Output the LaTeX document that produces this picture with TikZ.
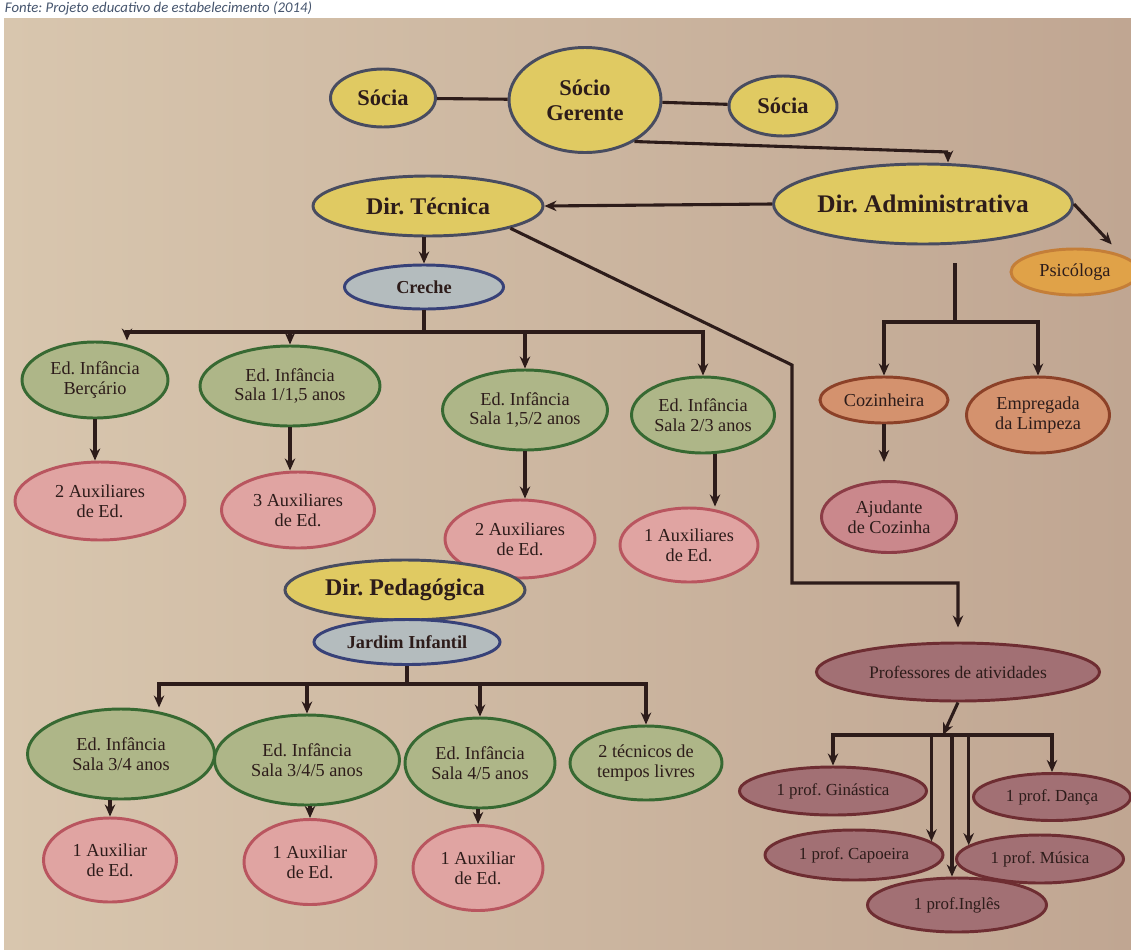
\documentclass[tikz,border=0pt]{standalone}
\usepackage{fontspec}
\setmainfont{Liberation Serif}
\newfontfamily\capfont{Carlito}
\usepackage{tikz}
\usetikzlibrary{shapes.geometric,arrows.meta}
\frenchspacing
\definecolor{ink}{RGB}{45,28,26}
\definecolor{capc}{RGB}{70,85,110}
\definecolor{bgl}{RGB}{216,198,174}
\definecolor{bgr}{RGB}{192,166,146}
\definecolor{yfill}{RGB}{224,202,98}
\definecolor{yline}{RGB}{72,76,96}
\definecolor{bfill}{RGB}{180,188,190}
\definecolor{bline}{RGB}{55,65,120}
\definecolor{gfill}{RGB}{174,182,136}
\definecolor{gline}{RGB}{55,105,50}
\definecolor{pfill}{RGB}{224,164,162}
\definecolor{pline}{RGB}{185,85,95}
\definecolor{ofill}{RGB}{212,146,110}
\definecolor{oline}{RGB}{140,65,40}
\definecolor{psfill}{RGB}{224,162,72}
\definecolor{psline}{RGB}{196,126,56}
\definecolor{afill}{RGB}{202,136,140}
\definecolor{aline}{RGB}{140,60,70}
\definecolor{mfill}{RGB}{162,112,116}
\definecolor{mline}{RGB}{110,45,50}

\begin{document}
\begin{tikzpicture}[x=0.025cm, y=-0.025cm, >={Stealth[length=3mm,width=2.6mm]},
  sz/.style 2 args={minimum width=#1*0.025cm, minimum height=#2*0.025cm},
  org/.style={ellipse, draw, line width=2.1pt, inner sep=0pt, align=center, text=ink, font=\fontsize{13}{14}\selectfont},
  chief/.style={org, fill=yfill, draw=yline, font=\bfseries\fontsize{17}{18}\selectfont},
  unit/.style={org, fill=bfill, draw=bline, font=\bfseries\fontsize{13}{14}\selectfont},
  room/.style={org, fill=gfill, draw=gline},
  aide/.style={org, fill=pfill, draw=pline},
  staff/.style={org, fill=ofill, draw=oline},
  teacher/.style={org, fill=mfill, draw=mline, font=\fontsize{12}{13}\selectfont},
  link/.style={line width=2.2pt, draw=ink}]
\useasboundingbox (0,0) rectangle (1131,949);
\fill[white] (0,0) rectangle (1131,949);
\shade[left color=bgl, right color=bgr] (4,18) rectangle (1131,949);
\node[font=\capfont\itshape\fontsize{10.5}{12}\selectfont, text=capc, anchor=west] (fonte) at (0,8) {Fonte: Projeto educativo de estabelecimento (2014)};

% direcao
\node[chief, sz={105}{58}, font=\bfseries\fontsize{16}{17}\selectfont] (soc1) at (383,98) {Sócia};
\node[chief, sz={152}{105}, font=\bfseries\fontsize{16}{18}\selectfont] (ger) at (585,100) {Sócio\\Gerente};
\node[chief, sz={108}{60}, font=\bfseries\fontsize{16}{17}\selectfont] (soc2) at (783,106) {Sócia};
\node[chief, sz={230}{60}] (tec) at (428,206) {Dir. Técnica};
\node[chief, sz={298}{80}, font=\bfseries\fontsize{18}{19}\selectfont] (adm) at (923,204) {Dir. Administrativa};
\node[org, fill=psfill, draw=psline, sz={128}{46}] (psi) at (1075,272) {Psicóloga};

% creche
\node[unit, sz={159}{44}] (creche) at (424,287) {Creche};
\node[room, sz={146}{76}] (ber) at (95,380) {Ed. Infância\\Berçário};
\node[room, sz={180}{80}] (s1) at (290,386) {Ed. Infância\\Sala 1/1,5 anos};
\node[room, sz={165}{80}] (s2) at (525,410) {Ed. Infância\\Sala 1,5/2 anos};
\node[room, sz={143}{76}] (s3) at (703,415) {Ed. Infância\\Sala 2/3 anos};
\node[aide, sz={170}{78}] (a1) at (100,501) {2 Auxiliares\\de Ed.};
\node[aide, sz={153}{76}] (a2) at (298,510) {3 Auxiliares\\de Ed.};
\node[aide, sz={150}{78}] (a3) at (520,539) {2 Auxiliares\\de Ed.};
\node[aide, sz={138}{74}] (a4) at (689,545) {1 Auxiliares\\de Ed.};

% jardim
\node[chief, sz={240}{60}] (ped) at (405,590) {Dir. Pedagógica};
\node[unit, sz={186}{45}] (jar) at (407,642) {Jardim Infantil};
\node[room, sz={187}{90}] (j1) at (121,754) {Ed. Infância\\Sala 3/4 anos};
\node[room, sz={185}{90}] (j2) at (307,760) {Ed. Infância\\Sala 3/4/5 anos};
\node[room, sz={150}{90}] (j3) at (480,763) {Ed. Infância\\Sala 4/5 anos};
\node[room, sz={152}{74}] (j4) at (646,763) {2 técnicos de\\tempos livres};
\node[aide, sz={133}{84}] (b1) at (110,860) {1 Auxiliar\\de Ed.};
\node[aide, sz={132}{85}] (b2) at (310,862) {1 Auxiliar\\de Ed.};
\node[aide, sz={130}{85}] (b3) at (478,868) {1 Auxiliar\\de Ed.};

% servicos
\node[staff, sz={128}{46}] (coz) at (884,400) {Cozinheira};
\node[staff, sz={143}{76}] (emp) at (1038,415) {Empregada\\da Limpeza};
\node[org, fill=afill, draw=aline, sz={135}{71}] (aju) at (889,517) {Ajudante\\de Cozinha};
\node[teacher, sz={283}{58}, font=\fontsize{12.5}{14}\selectfont] (prof) at (958,672) {Professores de atividades};
\node[teacher, sz={187}{48}] (gin) at (833,791) {1 prof. Ginástica};
\node[teacher, sz={157}{47}] (dan) at (1052,797) {1 prof. Dança};
\node[teacher, sz={178}{50}] (cap) at (854,855) {1 prof. Capoeira};
\node[teacher, sz={167}{48}] (mus) at (1040,859) {1 prof. Música};
\node[teacher, sz={179}{54}] (ing) at (957,905) {1 prof.Inglês};

\coordinate (gj) at (948,152);
\coordinate (cj) at (424,332);
\coordinate (jj) at (407,684);
\coordinate (aj) at (955,322);
\coordinate (pk) at (792,365);
\coordinate (pl) at (792,583);
\coordinate (qj) at (943,735);

\draw[link] (soc1) -- (ger);
\draw[link] (ger) -- (soc2);
\draw[link] (ger.-40) -- (gj);
\draw[link,->] (gj) -- (gj |- adm.north);
\draw[link,->] (adm.west) -- (tec.east);
\draw[link,->,shorten >=0.35cm] (adm.east) -- (psi.north east);
\draw[link,shorten <=0.45cm] (adm.south -| aj) -- (aj);
\draw[link,->] (aj) -| (coz.north);
\draw[link,->] (aj) -| (emp.north);
\draw[link,->,shorten >=0.45cm] (coz.south) -- (coz.south |- aju.north);

\draw[link,->] (creche.north |- tec.south) -- (creche.north);
\draw[link] (creche.south) -- (cj);
\draw[link,->] (cj) -| ([xshift=0.8cm]ber.north);
\draw[link,->] (cj) -| (s1.north);
\draw[link,->] (cj) -| (s2.north);
\draw[link,->] (cj) -| (s3.north);
\draw[link,->] (ber.south) -- (ber.south |- a1.north);
\draw[link,->] (s1.south) -- (s1.south |- a2.north);
\draw[link,->] (s2.south) -- (s2.south |- a3.north);
\draw[link,->] ([xshift=0.3cm]s3.south) -- ([xshift=0.3cm]s3.south |- a4.north);

\draw[link] (jar.south) -- (jj);
\draw[link,->] (jj) -| ([xshift=0.95cm]j1.north);
\draw[link,->] (jj) -| (j2.north);
\draw[link,->] (jj) -| (j3.north);
\draw[link,->] (jj) -| (j4.north);
\draw[link,->] (j1.south -| b1.north) -- (b1.north);
\draw[link,->] (j2.south -| b2.north) -- (b2.north);
\draw[link,->] (j3.south -| b3.north) -- (b3.north);

\draw[link,->,shorten >=0.35cm] (tec.south east) -- (pk) -- (pl) -| (prof.north);
\draw[link,->] (prof.south) -- (qj);
\draw[link,->] (qj) -| (gin.north);
\draw[link,->] (qj) -| (dan.north);
\draw[link,->] (qj) -| (cap.10);
\draw[link,->] (qj) -| (ing.100);
\draw[link,->] (qj) -| (mus.169);
\end{tikzpicture}
\end{document}
